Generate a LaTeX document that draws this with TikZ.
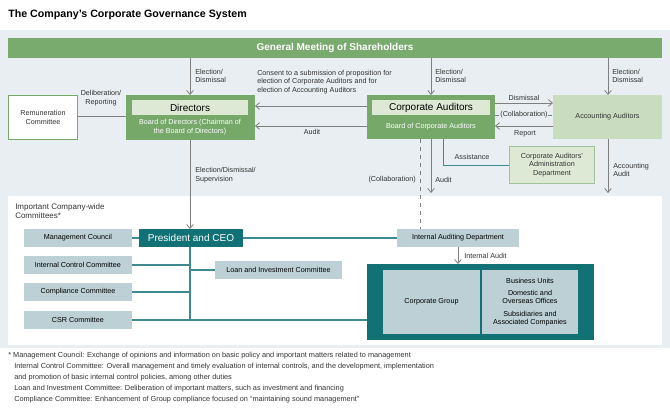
\documentclass[tikz,border=0pt]{standalone}
\usepackage{fontspec}
\setmainfont{Liberation Sans}
\usetikzlibrary{arrows.meta}
\definecolor{bgpanel}{HTML}{E8EEF1}
\definecolor{gbar}{HTML}{7AAB6E}
\definecolor{gbox}{HTML}{76A86A}
\definecolor{ginner}{HTML}{DDE9D5}
\definecolor{glight}{HTML}{C9DCBF}
\definecolor{teal}{HTML}{117175}
\definecolor{tline}{HTML}{3F8A8E}
\definecolor{cbox}{HTML}{BCD0D6}
\definecolor{garr}{HTML}{7F7F7F}
\tikzset{
 px/.style={x=0.75pt,y=-0.75pt},
 lbl/.style={font=\fontsize{5.4}{6.2}\selectfont,text=black!80,align=left,inner sep=0pt},
 clbl/.style={font=\fontsize{5.4}{6.2}\selectfont,text=black!80,align=center,inner sep=0pt},
 arr/.style={draw=garr,line width=0.6pt,-{Straight Barb[length=3pt,width=5pt]}},
 tl/.style={draw=tline,line width=0.9pt},
 cb/.style={fill=cbox,draw=none,font=\fontsize{5.4}{6.2}\selectfont,align=center},
}
\begin{document}
\begin{tikzpicture}[px]
\useasboundingbox (0,0) rectangle (670,412);
\fill[white] (0,0) rectangle (670,412);
\node[anchor=west,font=\bfseries\fontsize{8}{9}\selectfont,inner sep=0pt] (title) at (8,15) {The Company’s Corporate Governance System};
\fill[bgpanel] (0,30) rectangle (670,348);
\fill[white] (8,196) rectangle (662,345);
% general meeting
\node[fill=gbar,text=white,font=\bfseries\fontsize{7.5}{9}\selectfont,minimum width=490.5pt,minimum height=15pt,inner sep=0pt] (gm) at (335,48) {General Meeting of Shareholders};
% directors
\fill[gbox] (126,95) rectangle (255,140);
\node[fill=ginner,minimum width=87pt,minimum height=11pt,inner sep=0pt,font=\fontsize{7.5}{9}\selectfont] (dir) at (190,107.5) {Directors};
\node[clbl,text=white] (bod) at (190,127) {Board of Directors (Chairman of\\the Board of Directors)};
\coordinate (dirL) at (126,116);
% remuneration
\node[draw=gbox,line width=0.8pt,fill=white,minimum width=52pt,minimum height=33pt,inner sep=0pt,clbl] (rem) at (43,117.5) {Remuneration\\Committee};
% corporate auditors
\fill[gbox] (367,95) rectangle (495,139);
\node[fill=ginner,minimum width=88pt,minimum height=11pt,inner sep=0pt,font=\fontsize{7.5}{9}\selectfont] (ca) at (431,107.5) {Corporate Auditors};
\node[clbl,text=white] (boca) at (431,127) {Board of Corporate Auditors};
% accounting auditors
\node[fill=glight,minimum width=82pt,minimum height=33pt,inner sep=0pt,clbl] (aa) at (607.5,117) {Accounting Auditors};
% admin dept
\node[fill=ginner,draw=gbox!70,line width=0.5pt,minimum width=64pt,minimum height=28pt,inner sep=0pt,clbl] (adm) at (552,165) {Corporate Auditors’\\Administration\\Department};
% arrows from gm
\draw[arr] (190,58) -- (190,95);
\node[lbl,anchor=west] (l1) at (195,76) {Election/\\Dismissal};
\draw[arr] (431,58) -- (431,95);
\node[lbl,anchor=west] (l2) at (435,76) {Election/\\Dismissal};
\draw[arr] (608,58) -- (608,95);
\node[lbl,anchor=west] (l3) at (612,76) {Election/\\Dismissal};
% consent and audit
\draw[arr] (367,106) -- (255,106);
\node[lbl,anchor=west] (cons) at (257,82) {Consent to a submission of proposition for\\election of Corporate Auditors and for\\election of Accounting Auditors};
\draw[arr] (367,126) -- (255,126);
\node[lbl] (aud) at (312,132) {Audit};
% CA - AA
\draw[arr] (495,103) -- (553,103);
\node[lbl] (dis) at (524,98) {Dismissal};
\draw[garr,line width=0.6pt,dashed] (495,115) -- (500,115);
\draw[garr,line width=0.6pt,dashed] (548,115) -- (553,115);
\node[lbl] (col1) at (524,115) {(Collaboration)};
\draw[arr] (553,126) -- (495,126);
\node[lbl] (rep) at (525,134) {Report};
% deliberation
\draw[garr,line width=0.6pt] (rem.east |- dirL) -- (dirL);
\node[clbl] (del) at (101,98) {Deliberation/\\Reporting};
% assistance
\draw[tline,line width=0.6pt] (443,139) -- (443,165) -- (adm.west);
\node[lbl] (asst) at (472,157) {Assistance};
% downward
\draw[arr] (190,140) -- (190,229);
\node[lbl,anchor=west] (l4) at (195,175) {Election/Dismissal/\\Supervision};
\draw[arr] (431,139) -- (431,193);
\node[lbl,anchor=west] (l5) at (435,180) {Audit};
\draw[garr,line width=0.6pt,dashed] (420,139) -- (420,229);
\node[lbl,anchor=east] (col2) at (416,180) {(Collaboration)};
\draw[arr] (608,139) -- (608,193);
\node[lbl,anchor=west] (l6) at (613,170) {Accounting\\Audit};
% committees
\node[lbl,anchor=west,font=\fontsize{6}{7}\selectfont] (icw) at (15,211) {Important Company-wide\\Committees*};
\node[cb,minimum width=81pt,minimum height=13.5pt,inner sep=0pt] (mc) at (78,238) {Management Council};
\node[fill=teal,text=white,font=\fontsize{7.5}{9}\selectfont,minimum width=78pt,minimum height=13.5pt,inner sep=0pt] (ceo) at (191,238) {President and CEO};
\node[cb,minimum width=91.5pt,minimum height=13.5pt,inner sep=0pt] (iad) at (458,238) {Internal Auditing Department};
\node[cb,minimum width=81pt,minimum height=13.5pt,inner sep=0pt] (icc) at (78,265) {Internal Control Committee};
\node[cb,minimum width=81pt,minimum height=13.5pt,inner sep=0pt] (cc) at (78,292) {Compliance Committee};
\node[cb,minimum width=81pt,minimum height=13.5pt,inner sep=0pt] (csr) at (78,320) {CSR Committee};
\node[cb,minimum width=95pt,minimum height=13.5pt,inner sep=0pt] (loan) at (278.5,270) {Loan and Investment Committee};
% corporate group
\fill[teal] (367,264) rectangle (594,340);
\node[cb,minimum width=72.75pt,minimum height=48pt,inner sep=0pt] (cg) at (431.5,302) {Corporate Group};
\node[cb,minimum width=72pt,minimum height=48pt,inner sep=0pt] (bu) at (530,302) {Business Units\\[3pt]Domestic and\\Overseas Offices\\[3pt]Subsidiaries and\\Associated Companies};
\coordinate (cgW) at (367,320);
\coordinate (tr0) at (190,247);
\coordinate (tr1) at (190,265);
\coordinate (tr2) at (190,292);
\coordinate (tr3) at (190,320);
\coordinate (tr4) at (190,270);
\draw[tl] (mc.east) -- (ceo.west);
\draw[tl] (ceo.east) -- (iad.west);
\draw[tl] (tr0) -- (tr3);
\draw[tl] (icc.east) -- (tr1);
\draw[tl] (cc.east) -- (tr2);
\draw[tl] (csr.east) -- (tr3) -- (cgW);
\draw[tl] (tr4) -- (loan.west);
\draw[arr] (iad.south) -- (458,264);
\node[lbl,anchor=west] (ia) at (464,256) {Internal Audit};
% footnotes
\node[lbl,anchor=north west,font=\fontsize{5.5}{8.2}\selectfont] (fn) at (8,352) {* Management Council: Exchange of opinions and information on basic policy and important matters related to management\\
\hspace{4.5pt}Internal Control Committee: Overall management and timely evaluation of internal controls, and the development, implementation\\
\hspace{4.5pt}and promotion of basic internal control policies, among other duties\\
\hspace{4.5pt}Loan and Investment Committee: Deliberation of important matters, such as investment and financing\\
\hspace{4.5pt}Compliance Committee: Enhancement of Group compliance focused on “maintaining sound management”};
\end{tikzpicture}
\end{document}
